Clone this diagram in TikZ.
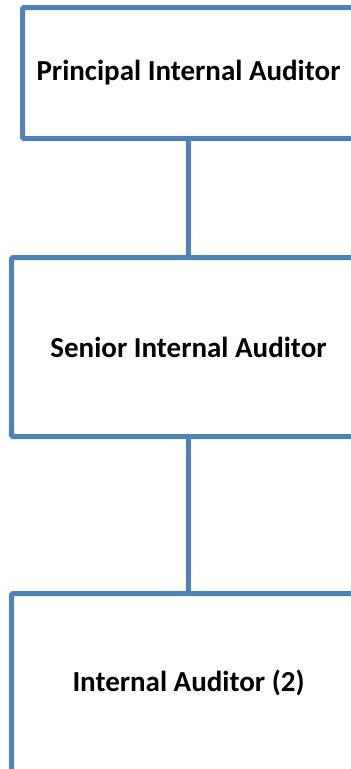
\documentclass[tikz,border=0pt]{standalone}
\usepackage{fontspec}
\setmainfont{Carlito}
\definecolor{boxblue}{HTML}{4F81BD}
\tikzset{
  rolebox/.style={draw=boxblue, line width=5pt, rectangle, rounded corners=1.5pt,
    inner sep=0pt, fill=white, text=black,
    font=\bfseries\fontsize{29}{34}\selectfont},
  link/.style={draw=boxblue, line width=5pt}
}
\begin{document}
\begin{tikzpicture}[x=1pt,y=1pt]
  \useasboundingbox (0,0) rectangle (351,-769);
  \clip (0,0) rectangle (351,-769);
  \fill[white] (0,0) rectangle (351,-769);
  \node[rolebox, minimum width=332pt, minimum height=131pt] (pia) at (188.5,-73)
    {Principal Internal Auditor};
  \node[rolebox, minimum width=354pt, minimum height=179pt] (sia) at (188.5,-347)
    {Senior Internal Auditor};
  \node[rolebox, minimum width=354pt, minimum height=179pt] (ia) at (188.5,-683)
    {Internal Auditor (2)};
  \draw[link] (pia.south) -- (sia.north);
  \draw[link] (sia.south) -- (ia.north);
\end{tikzpicture}
\end{document}
